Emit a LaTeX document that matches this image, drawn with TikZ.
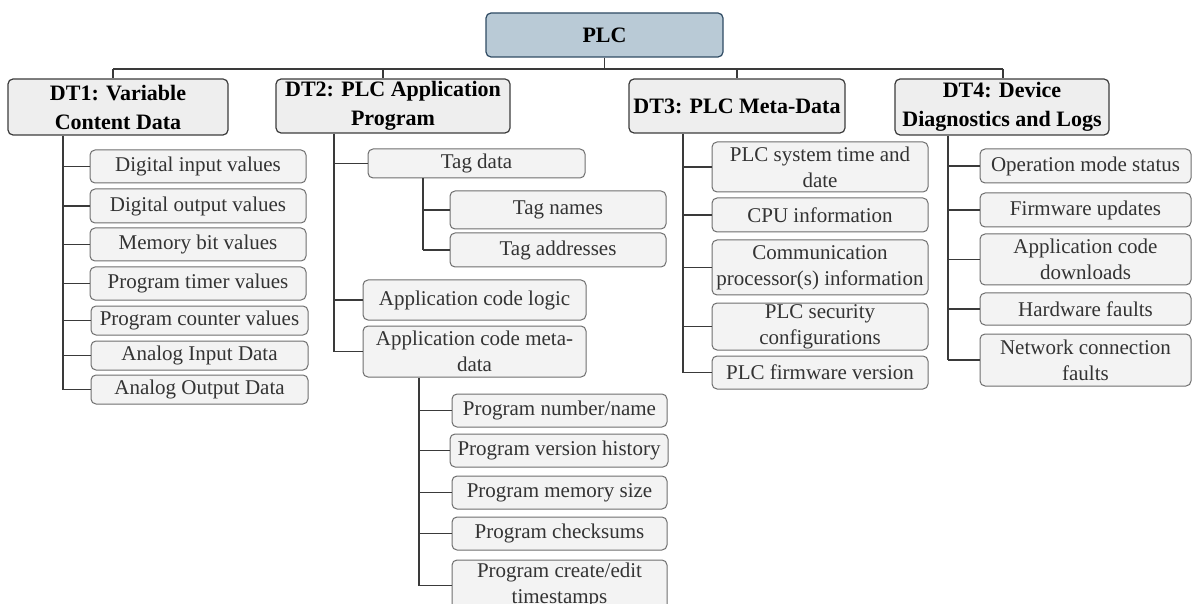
\documentclass[tikz,border=0pt]{standalone}
\usepackage{fontspec}
\setmainfont{Liberation Serif}
\definecolor{linegray}{HTML}{3A3A3A}
\definecolor{leafborder}{HTML}{6E6E6E}
\definecolor{leaffill}{HTML}{F3F3F3}
\definecolor{headfill}{HTML}{EEEEEE}
\definecolor{headborder}{HTML}{3C3C3C}
\definecolor{rootfill}{HTML}{B9CAD6}
\definecolor{rootborder}{HTML}{2F4B63}
\definecolor{leaftext}{HTML}{333333}
\tikzset{
  box/.style={rounded corners=5pt, inner sep=0pt, align=center},
  root/.style={box, draw=rootborder, fill=rootfill, line width=1.2pt,
    font=\fontsize{22}{29}\selectfont\bfseries},
  head/.style={box, draw=headborder, fill=headfill, line width=1.2pt,
    font=\fontsize{22}{29}\selectfont\bfseries},
  leaf/.style={box, draw=leafborder, fill=leaffill, line width=1pt,
    text=leaftext, font=\fontsize{21}{26}\selectfont},
  conn/.style={draw=linegray, line width=1.5pt},
  wh/.style 2 args={minimum width=#1, minimum height=#2}
}
\begin{document}
\begin{tikzpicture}[x=1pt,y=-1pt]
\useasboundingbox (0,0) rectangle (1192,604);
\clip (0,0) rectangle (1192,604);

% root and the four data types
\node[root, wh={237}{44}] (plc) at (604.5,35) {PLC};
\node[head, wh={220}{56}] (dt1) at (118,107) {DT1: Variable\\Content Data};
\node[head, wh={234}{54}] (dt2) at (393,106) {DT2: PLC Application\\Program};
\node[head, wh={216}{54}] (dt3) at (737,106) {DT3: PLC Meta-Data};
\node[head, wh={214}{56}] (dt4) at (1002,107) {DT4: Device\\Diagnostics and Logs};

% DT1 items
\node[leaf, wh={216}{33}] (a1) at (198,166.5) {Digital input values};
\node[leaf, wh={216}{34}] (a2) at (198,206) {Digital output values};
\node[leaf, wh={216}{33}] (a3) at (198,244.5) {Memory bit values};
\node[leaf, wh={216}{33}] (a4) at (198,283.5) {Program timer values};
\node[leaf, wh={217}{29}] (a5) at (199.5,320.5) {Program counter values};
\node[leaf, wh={217}{29}] (a6) at (199.5,355.5) {Analog Input Data};
\node[leaf, wh={217}{29}] (a7) at (199.5,389.5) {Analog Output Data};

% DT2 items
\node[leaf, wh={217}{29}] (b1) at (476.5,163.5) {Tag data};
\node[leaf, wh={216}{38}] (b11) at (558,210) {Tag names};
\node[leaf, wh={216}{34}] (b12) at (558,250) {Tag addresses};
\node[leaf, wh={223}{40}] (b2) at (474.5,300) {Application code logic};
\node[leaf, wh={223}{51}] (b3) at (474.5,351.5) {Application code meta-\\data};
\node[leaf, wh={215}{33}] (b31) at (559.5,410.5) {Program number/name};
\node[leaf, wh={218}{33}] (b32) at (559,450.5) {Program version history};
\node[leaf, wh={215}{33}] (b33) at (559.5,492.5) {Program memory size};
\node[leaf, wh={215}{33}] (b34) at (559.5,533.5) {Program checksums};
\node[leaf, wh={215}{51}] (b35) at (559.5,585.5) {Program create/edit\\timestamps};

% DT3 items
\node[leaf, wh={216}{50}] (c1) at (820,167) {PLC system time and\\date};
\node[leaf, wh={216}{34}] (c2) at (820,215) {CPU information};
\node[leaf, wh={216}{55}] (c3) at (820,267.5) {Communication\\processor(s) information};
\node[leaf, wh={216}{47}] (c4) at (820,326.5) {PLC security\\configurations};
\node[leaf, wh={216}{33}] (c5) at (820,372.5) {PLC firmware version};

% DT4 items
\node[leaf, wh={211}{34}] (d1) at (1085.5,166) {Operation mode status};
\node[leaf, wh={211}{34}] (d2) at (1085.5,210) {Firmware updates};
\node[leaf, wh={211}{51}] (d3) at (1085.5,259.5) {Application code\\downloads};
\node[leaf, wh={211}{32}] (d4) at (1085.5,309) {Hardware faults};
\node[leaf, wh={211}{52}] (d5) at (1085.5,360) {Network connection\\faults};

% top bus
\coordinate (t1) at (113,69);
\coordinate (t2) at (383,69);
\coordinate (t3) at (737,69);
\coordinate (t4) at (1003,69);
\draw[conn] (plc.south) -- (plc.south |- t1);
\draw[conn] (t1) -- (t4);
\draw[conn] (t1) -- (t1 |- dt1.north);
\draw[conn] (t2) -- (t2 |- dt2.north);
\draw[conn] (t3) -- (t3 |- dt3.north);
\draw[conn] (t4) -- (t4 |- dt4.north);

% branch spines
\coordinate (v1) at (63,0);
\coordinate (v2) at (334,0);
\coordinate (v21) at (423,0);
\coordinate (v23) at (419,0);
\coordinate (v3) at (683,0);
\coordinate (v4) at (948,0);

\draw[conn] (v1 |- dt1.south) -- (v1 |- a7.west);
\foreach \n in {a1,a2,a3,a4,a5,a6,a7}
  \draw[conn] (v1 |- \n.west) -- (\n.west);

\draw[conn] (v2 |- dt2.south) -- (v2 |- b3.west);
\foreach \n in {b1,b2,b3}
  \draw[conn] (v2 |- \n.west) -- (\n.west);

\draw[conn] (v21 |- b1.south) -- (v21 |- b12.west);
\foreach \n in {b11,b12}
  \draw[conn] (v21 |- \n.west) -- (\n.west);

\draw[conn] (v23 |- b3.south) -- (v23 |- b35.west);
\foreach \n in {b31,b32,b33,b34,b35}
  \draw[conn] (v23 |- \n.west) -- (\n.west);

\draw[conn] (v3 |- dt3.south) -- (v3 |- c5.west);
\foreach \n in {c1,c2,c3,c4,c5}
  \draw[conn] (v3 |- \n.west) -- (\n.west);

\draw[conn] (v4 |- dt4.south) -- (v4 |- d5.west);
\foreach \n in {d1,d2,d3,d4,d5}
  \draw[conn] (v4 |- \n.west) -- (\n.west);
\end{tikzpicture}
\end{document}
